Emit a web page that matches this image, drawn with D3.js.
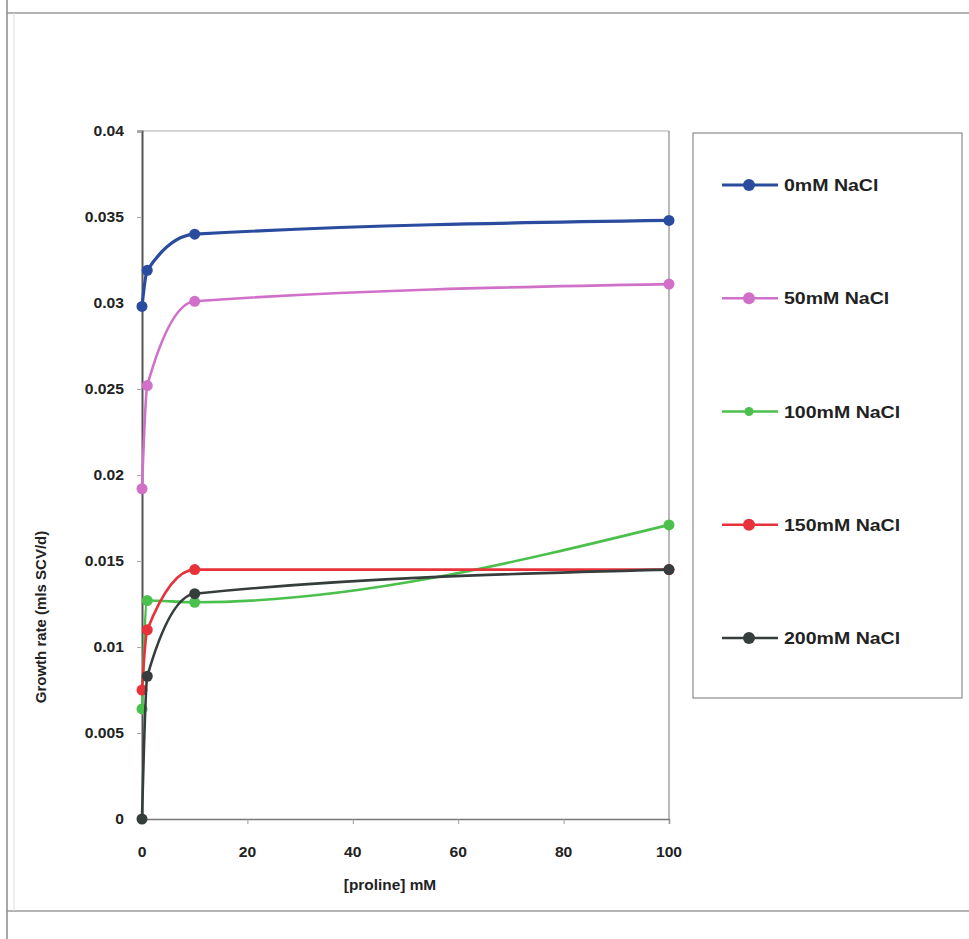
<!DOCTYPE html>
<html>
<head>
<meta charset="utf-8">
<script src="https://cdn.jsdelivr.net/npm/d3@7"></script>
<style>
  html, body { margin: 0; padding: 0; background: #fff; }
  text { font-family: "Liberation Sans", Arial, sans-serif; fill: #222; }
</style>
</head>
<body>
<svg id="chart" width="969" height="939"></svg>
<script>
// ---- data ----
const prolineMM = [0, 1, 10, 100];
const seriesNames = ["0mM NaCl", "50mM NaCl", "100mM NaCl", "150mM NaCl", "200mM NaCl"];
const nacl0   = [0.0298, 0.0319, 0.0340, 0.0348];
const nacl50  = [0.0192, 0.0252, 0.0301, 0.0311];
const nacl100 = [0.0064, 0.0127, 0.0126, 0.0171];
const nacl150 = [0.0075, 0.0110, 0.0145, 0.0145];
const nacl200 = [0.0000, 0.0083, 0.0131, 0.0145];
const seriesColors = ["#2b4c9e", "#d070c8", "#4cc04c", "#e8323a", "#363d3d"];
const xTicks = [0, 20, 40, 60, 80, 100];
const yTicks = [0, 0.005, 0.01, 0.015, 0.02, 0.025, 0.03, 0.035, 0.04];
const yTickLabels = ["0", "0.005", "0.01", "0.015", "0.02", "0.025", "0.03", "0.035", "0.04"];
const xTitle = "[proline] mM";
const yTitle = "Growth rate (mls SCV/d)";

const allSeries = [nacl0, nacl50, nacl100, nacl150, nacl200];

const svg = d3.select("#chart");

// outer frame (scanned page)
svg.append("line").attr("x1", 7).attr("x2", 7).attr("y1", 0).attr("y2", 939)
  .attr("stroke", "#8a8a8a").attr("stroke-width", 1.5);
svg.append("line").attr("x1", 6).attr("x2", 969).attr("y1", 13).attr("y2", 13)
  .attr("stroke", "#9a9a9a").attr("stroke-width", 1.5);
svg.append("line").attr("x1", 6).attr("x2", 969).attr("y1", 911).attr("y2", 911)
  .attr("stroke", "#9a9a9a").attr("stroke-width", 1.5);
svg.append("line").attr("x1", 14).attr("x2", 14).attr("y1", 13).attr("y2", 911)
  .attr("stroke", "#dddddd").attr("stroke-width", 1);

const x = d3.scaleLinear().domain([0, 100]).range([142, 669]);
const y = d3.scaleLinear().domain([0, 0.04]).range([819, 131]);

// plot box top and right borders
svg.append("line").attr("x1", x(0)).attr("x2", x(100)).attr("y1", y(0.04)).attr("y2", y(0.04))
  .attr("stroke", "#c8c8c8").attr("stroke-width", 1.5);
svg.append("line").attr("x1", x(100)).attr("x2", x(100)).attr("y1", y(0.04)).attr("y2", y(0))
  .attr("stroke", "#8a8a8a").attr("stroke-width", 1.2);

// axes
const xAxis = svg.append("g").attr("transform", `translate(0,${y(0)})`)
  .call(d3.axisBottom(x).tickValues(xTicks).tickSize(5).tickFormat(""));
xAxis.select(".domain").attr("stroke", "#777").attr("stroke-width", 1.5);
xAxis.selectAll(".tick line").attr("stroke", "#999");

const yAxis = svg.append("g").attr("transform", `translate(${x(0)},0)`)
  .call(d3.axisLeft(y).tickValues(yTicks).tickSize(5).tickFormat(""));
yAxis.select(".domain").attr("stroke", "#555").attr("stroke-width", 2);
yAxis.selectAll(".tick line").attr("stroke", "#aaa");

// tick labels (horizontally stretched like the scan)
xTicks.forEach((t) => {
  svg.append("text")
    .attr("transform", `translate(${x(t)},${y(0) + 38}) scale(1.12,1)`)
    .attr("text-anchor", "middle")
    .attr("font-size", 14).attr("font-weight", "bold")
    .text(String(t));
});
yTicks.forEach((t, i) => {
  svg.append("text")
    .attr("transform", `translate(124,${y(t) + 5}) scale(1.12,1)`)
    .attr("text-anchor", "end")
    .attr("font-size", 14).attr("font-weight", "bold")
    .text(yTickLabels[i]);
});

// axis titles
svg.append("text")
  .attr("transform", `translate(390,890) scale(1.1,1)`)
  .attr("text-anchor", "middle")
  .attr("font-size", 14).attr("font-weight", "bold")
  .text(xTitle);
svg.append("text")
  .attr("transform", `translate(46,617) rotate(-90)`)
  .attr("text-anchor", "middle")
  .attr("font-size", 15).attr("font-weight", "bold")
  .text(yTitle);

// series lines
const line = d3.line()
  .x((d) => x(d[0]))
  .y((d) => y(d[1]))
  .curve(d3.curveMonotoneX);

const drawOrder = [2, 1, 3, 4, 0];
drawOrder.forEach((si) => {
  const vals = allSeries[si];
  const pts = prolineMM.map((p, i) => [p, vals[i]]);
  svg.append("path").datum(pts)
    .attr("d", line)
    .attr("fill", "none")
    .attr("stroke", seriesColors[si])
    .attr("stroke-width", si === 0 ? 3.2 : 2.6);
  svg.append("g").selectAll("circle").data(pts).join("circle")
    .attr("cx", (d) => x(d[0]))
    .attr("cy", (d) => y(d[1]))
    .attr("r", 5.5)
    .attr("fill", seriesColors[si]);
});

// legend
svg.append("rect").attr("x", 693).attr("y", 133).attr("width", 269).attr("height", 565)
  .attr("fill", "#fff").attr("stroke", "#8a8a8a").attr("stroke-width", 1.2);
const legendY = d3.scalePoint().domain(seriesNames).range([185, 638]);
seriesNames.forEach((name, i) => {
  const ly = legendY(name);
  svg.append("line").attr("x1", 722).attr("x2", 778).attr("y1", ly).attr("y2", ly)
    .attr("stroke", seriesColors[i]).attr("stroke-width", i === 0 ? 3.2 : 2.6);
  svg.append("circle").attr("cx", 749).attr("cy", ly).attr("r", i === 2 ? 4.5 : 6)
    .attr("fill", seriesColors[i]);
  svg.append("text")
    .attr("transform", `translate(784,${ly + 6}) scale(1.15,1)`)
    .attr("font-size", 17).attr("font-weight", "bold")
    .text(name);
});
</script>
</body>
</html>
